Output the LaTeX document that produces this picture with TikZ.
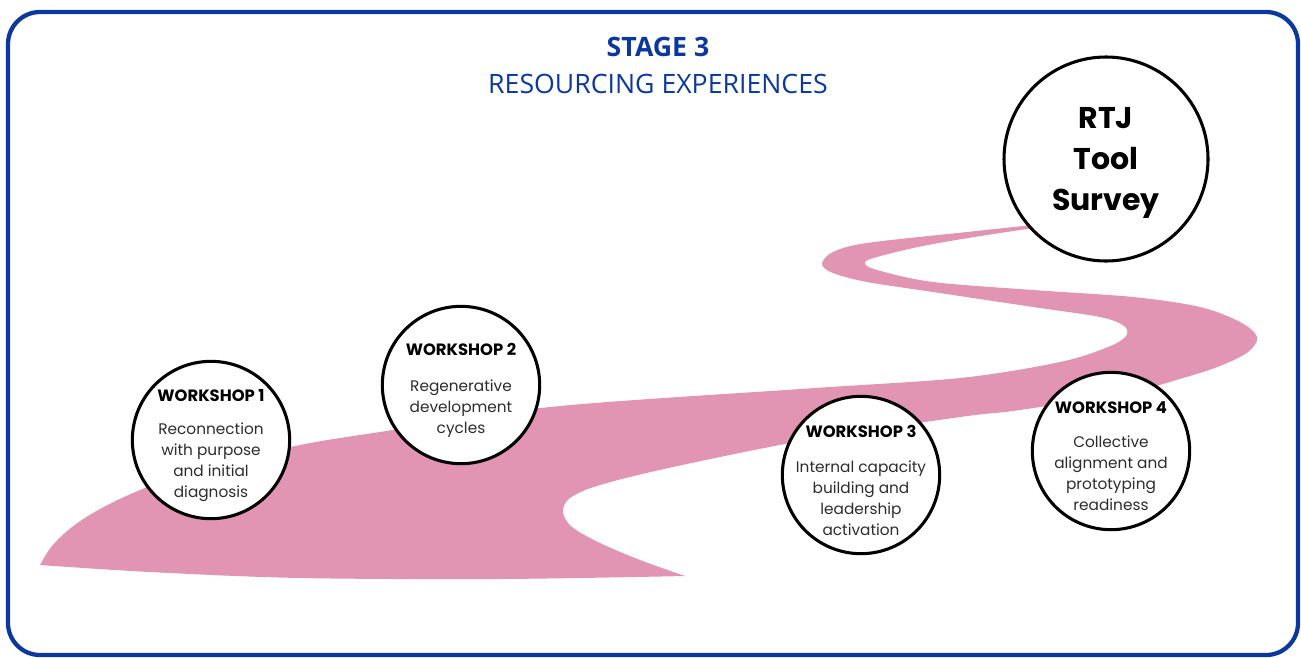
\documentclass[tikz,border=0pt]{standalone}
\usepackage{fontspec}
\setmainfont{Poppins}
\newfontfamily\titlefont{Open Sans}
\usetikzlibrary{positioning}

\definecolor{stageblue}{RGB}{12,56,158}
\definecolor{roadpink}{RGB}{226,148,179}
\definecolor{bodygray}{RGB}{45,45,45}

\tikzset{
  stop/.style={circle,draw=black,line width=2.3pt,fill=white,minimum size=118pt,inner sep=0pt},
  bigstop/.style={stop,minimum size=153pt},
  stoptext/.style={align=center,inner sep=0pt,yshift=-4pt,text=bodygray,font=\fontsize{11.5}{15.75}\selectfont},
  surveytext/.style={align=center,inner sep=0pt,yshift=-3pt,font=\fontsize{22.5}{31}\selectfont\bfseries},
  titletext/.style={inner sep=0pt,text=stageblue,font=\titlefont\fontsize{20}{24}\selectfont}
}
\newcommand\wshead[1]{{\color{black}\fontsize{12.3}{15.75}\selectfont\bfseries #1}}

\begin{document}
\begin{tikzpicture}[x=0.75pt,y=-0.75pt]
    \useasboundingbox (0,0) rectangle (1301,657);
    \draw[stageblue,line width=3.2pt,rounded corners=24pt] (8,12) rectangle (1298,655);

    % title
    \node[titletext] (stage) at (658,47) {\bfseries STAGE 3};
    \node[titletext] (resourcing) at (658,84) {RESOURCING EXPERIENCES};

    % the road
    \fill[roadpink] plot[smooth,tension=0.55] coordinates {(40,565) (52,546) (72,527) (100,509) (140,490) (200,468) (300,445) (380,432) (550,407) (800,389) (960,378) (1060,362) (1108,347) (1126,336) (1124,326) (1100,317) (1033,307) (933,292) (867,282) (833,273) (822,264) (833,252) (867,243) (967,232) (1033,225) (1100,218) (1150,213)}
      -- plot[smooth,tension=0.55] coordinates {(1150,214) (1100,220) (1027,229) (933,244) (877,257) (865,263) (877,270) (933,282) (1033,290) (1133,297) (1200,307) (1240,322) (1257,337) (1248,352) (1220,366) (1183,378) (1130,392) (1020,410) (960,417) (807,440) (673,467) (600,485) (570,498) (563,512) (572,527) (600,543) (640,560) (685,576)}
      -- plot[smooth,tension=0.55] coordinates {(685,576) (500,579) (300,578) (150,572) (40,565)} -- cycle;

    % stops
    \node[stop] (ws1) at (211,440) {};
    \node[stop] (ws2) at (461,385) {};
    \node[stop] (ws3) at (861,475) {};
    \node[stop] (ws4) at (1111,451) {};
    \node[bigstop] (rtj) at (1106,159) {};

    \node[stoptext] (ws1txt) at (ws1) {\wshead{WORKSHOP 1}\\[9pt]Reconnection\\with purpose\\and initial\\diagnosis};
    \node[stoptext] (ws2txt) at (ws2) {\wshead{WORKSHOP 2}\\[11pt]Regenerative\\development\\cycles};
    \node[stoptext] (ws3txt) at (ws3) {\wshead{WORKSHOP 3}\\[10pt]Internal capacity\\building and\\leadership\\activation};
    \node[stoptext] (ws4txt) at (ws4) {\wshead{WORKSHOP 4}\\[10pt]Collective\\alignment and\\prototyping\\readiness};
    \node[surveytext] (rtjtxt) at (rtj) {RTJ\\Tool\\Survey};
\end{tikzpicture}
\end{document}
